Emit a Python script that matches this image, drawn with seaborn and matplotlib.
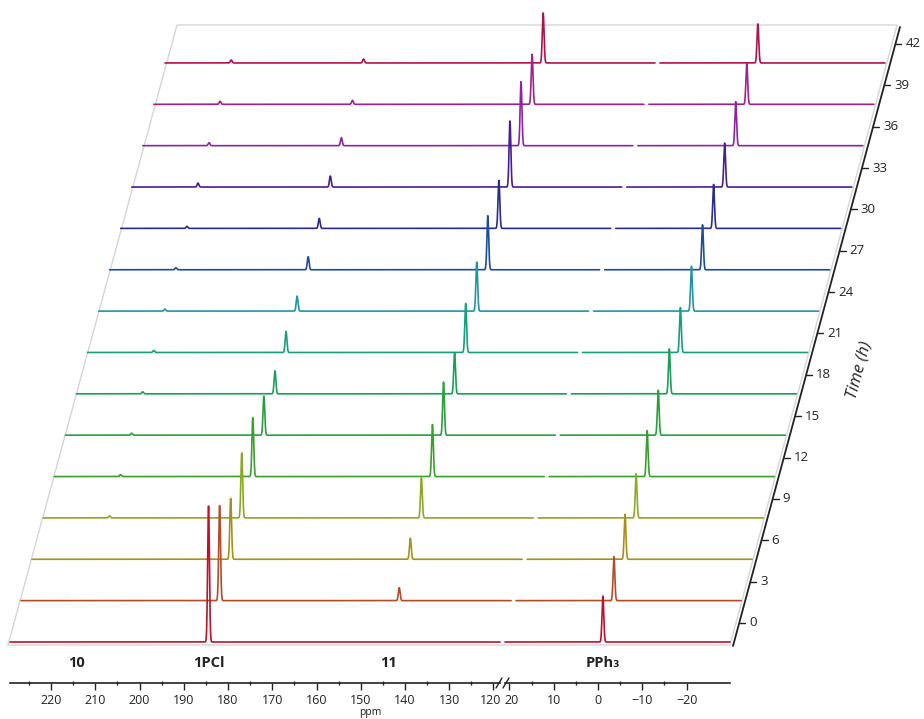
import numpy as np
import pandas as pd
import matplotlib
matplotlib.use("Agg")
import matplotlib.pyplot as plt
import seaborn as sns
from matplotlib.transforms import ScaledTranslation

# ---------------- data ----------------
times = [0, 3, 6, 9, 12, 15, 18, 21, 24, 27, 30, 33, 36, 39, 42]
colors = ["#c0102c", "#b84a28", "#a8901c", "#8ca824", "#3c9e2c", "#28a03c",
          "#18a058", "#14a078", "#2096a4", "#1c4c9c", "#282c8c", "#4a1c94",
          "#8c24a4", "#a0208c", "#b4104c"]

# peak positions (ppm)
ppm_10 = 214.3
ppm_1pcl = 184.4
ppm_11 = 143.8
ppm_pph3 = -1.1

# peak heights per spectrum (relative intensity)
h_10 = [0, 0, 0, 2, 2, 2, 2, 2, 2, 2, 2, 4, 3, 3, 3]
h_1pcl = [136, 95, 61, 65, 59, 39, 23, 21, 15, 13, 10, 11, 8, 4, 4]
h_11 = [0, 13, 21, 40, 52, 53, 41, 49, 49, 54, 48, 66, 64, 50, 50]
h_pph3 = [46, 44, 45, 44, 46, 45, 45, 45, 45, 45, 44, 44, 44, 41, 39]

left_ticks = [220, 210, 200, 190, 180, 170, 160, 150, 140, 130, 120]
right_ticks = [20, 10, 0, -10, -20]
left_range = (229.27, 118.53)
right_range = (21.0, -29.8)

compound_labels = ["10", "1PCl", "11", "PPh\u2083"]
compound_ppm = [ppm_10, ppm_1pcl, ppm_11, ppm_pph3]
time_label = "Time (h)"
x_label = "ppm"

# ---------------- styling / layout ----------------
sns.set_theme(style="white")
plt.rcParams['font.family'] = ['Open Sans', 'DejaVu Sans']

W, H = 924, 719
fig = plt.figure(figsize=(W / 100, H / 100), dpi=100)

dy_per_h = 41.36 / 3.0     # vertical stacking per hour (data units = px)
dx_per_h = 11.07 / 3.0     # horizontal skew per hour (px)
sigma = 0.2                # line width of peaks (ppm)

# overlay axes in pixel coordinates for the 3D frame and time axis
axo = fig.add_axes([0, 0, 1, 1])
axo.set_xlim(0, W)
axo.set_ylim(H, 0)
axo.axis("off")
axo.set_zorder(0)

axis_y = 683
base0 = 642
axL = fig.add_axes([10 / W, (H - axis_y) / H, 490 / W, axis_y / H])
axR = fig.add_axes([505 / W, (H - axis_y) / H, 225 / W, axis_y / H])

for ax, rng, ticks in [(axL, left_range, left_ticks), (axR, right_range, right_ticks)]:
    ax.set_zorder(2)
    ax.patch.set_alpha(0)
    ax.set_xlim(*rng)
    ax.set_ylim(base0 - axis_y, base0)
    for s in ["top", "right", "left"]:
        ax.spines[s].set_visible(False)
    ax.spines["bottom"].set_color("#222222")
    ax.spines["bottom"].set_linewidth(1.2)
    ax.set_xticks(ticks)
    ax.set_xticklabels([f"{t}" if t >= 0 else f"\u2212{abs(t)}" for t in ticks])
    ax.set_xticks([t + 5 for t in ticks if rng[1] < t + 5 < rng[0]], minor=True)
    ax.tick_params(axis="x", which="major", direction="out", length=5, width=1,
                   color="#222222", labelsize=9, labelcolor="#222222", pad=3, bottom=True)
    ax.tick_params(axis="x", which="minor", direction="inout", length=3, width=1,
                   color="#222222", bottom=True)
    ax.set_yticks([])


def spectrum(xg, i):
    y = np.full_like(xg, times[i] * dy_per_h)
    for p, h in [(ppm_10, h_10[i]), (ppm_1pcl, h_1pcl[i]), (ppm_11, h_11[i]), (ppm_pph3, h_pph3[i])]:
        y = y + h * np.exp(-0.5 * ((xg - p) / sigma) ** 2)
    return y


xgL = np.linspace(left_range[0], left_range[1], 7000)
xgR = np.linspace(right_range[0], right_range[1], 3500)

for i, t in enumerate(times):
    off = ScaledTranslation(t * dx_per_h / 100.0, 0, fig.dpi_scale_trans)
    for ax, xg in [(axL, xgL), (axR, xgR)]:
        df = pd.DataFrame({"ppm": xg, "I": spectrum(xg, i)})
        n0 = len(ax.lines)
        sns.lineplot(data=df, x="ppm", y="I", ax=ax, color=colors[i], linewidth=1.2,
                     sort=False, estimator=None, legend=False)
        ln = ax.lines[n0]
        ln.set_transform(ax.transData + off)
        ln.set_clip_on(False)
        ln.set_zorder(100 - i)
for ax in (axL, axR):
    ax.set_xlabel("")
    ax.set_ylabel("")

# nudge the touching "120" / "20" labels apart slightly
lab120 = axL.get_xticklabels()[-1]
lab120.set_transform(lab120.get_transform() + ScaledTranslation(-2.5 / 100, 0, fig.dpi_scale_trans))
lab20 = axR.get_xticklabels()[0]
lab20.set_transform(lab20.get_transform() + ScaledTranslation(2.5 / 100, 0, fig.dpi_scale_trans))

# compound labels
for lab, p in zip(compound_labels, compound_ppm):
    ax = axL if p > 100 else axR
    ax.text(p, -21, lab, ha="center", va="center", fontsize=10.5,
            fontweight="bold", color="#222222")

# x-axis label
axo.text(370, 713, x_label, ha="center", va="center", fontsize=7.5, color="#222222")

# axis break marks
axo.plot([496, 502], [688, 678], color="#222222", lw=1)
axo.plot([503, 509], [688, 678], color="#222222", lw=1)

# 3D frame (light grey)
frame = [(8, 645), (177, 25), (897, 25), (730, 645), (8, 645)]
axo.plot([p[0] for p in frame], [p[1] for p in frame], color="#d6d6d6", lw=1.0)

# time axis
x_b, y_b, x_t, y_t = 733, 646, 900, 27
slope = (x_t - x_b) / (y_b - y_t)
axo.plot([x_b, x_t], [y_b, y_t], color="#222222", lw=1.3)
for t in times:
    yy = 623 - t * dy_per_h
    xx = x_b + (y_b - yy) * slope
    axo.plot([xx, xx + 6], [yy, yy], color="#222222", lw=1)
    axo.text(xx + 10, yy, f"{t}", ha="left", va="center", fontsize=9.5, color="#222222")

axo.text(859, 370, time_label, rotation=np.degrees(np.arctan2(y_b - y_t, x_t - x_b)),
         style="italic", fontsize=12, ha="center", va="center", color="#222222",
         rotation_mode="anchor")

fig.savefig("out.png", dpi=100)
